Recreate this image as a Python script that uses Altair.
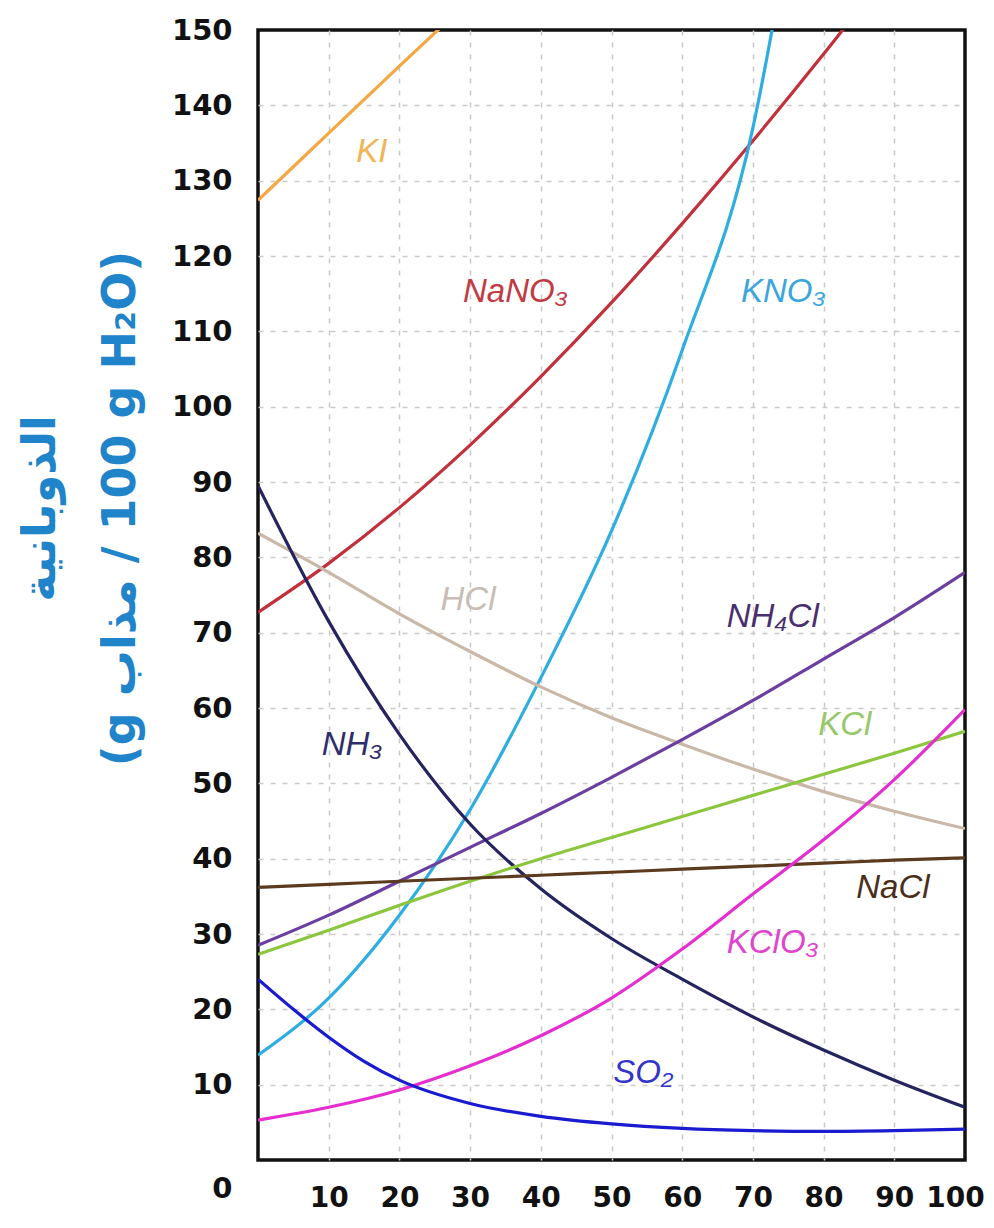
import altair as alt
import pandas as pd

# ---- data ----
temps = [0, 10, 20, 30, 40, 50, 60, 70, 80, 90, 100]

ki_t = [0, 10, 20, 30]
ki_s = [127.4, 136.3, 145.2, 154.0]

nano3_t = [0, 10, 20, 30, 40, 50, 60, 70, 80, 90]
nano3_s = [72.7, 79.2, 86.6, 94.9, 104.0, 113.8, 124.3, 135.3, 146.8, 158.8]

kno3_t = [0, 10, 20, 30, 40, 50, 60, 70, 75]
kno3_s = [13.9, 21.5, 32.5, 46.5, 64.0, 83.5, 107.5, 137.0, 162.0]

hcl_s = [83.2, 78.0, 72.5, 67.5, 62.8, 58.7, 55.2, 51.9, 48.9, 46.3, 44.0]
nh3_s = [89.5, 71.5, 56.5, 44.6, 36.0, 29.4, 24.0, 19.0, 14.6, 10.6, 7.0]
nh4cl_s = [28.5, 32.5, 37.0, 41.5, 46.0, 50.8, 55.8, 61.0, 66.5, 72.0, 78.0]
kcl_s = [27.3, 30.5, 33.8, 37.0, 40.0, 42.8, 45.6, 48.4, 51.2, 54.0, 56.9]
nacl_s = [36.2, 36.6, 37.0, 37.4, 37.8, 38.2, 38.6, 39.0, 39.4, 39.8, 40.1]
kclo3_s = [5.3, 7.0, 9.3, 12.5, 16.5, 21.5, 28.0, 35.3, 42.5, 50.5, 59.8]

so2_t = [0, 5, 10, 15, 20, 30, 40, 50, 60, 70, 80, 90, 100]
so2_s = [24.0, 20.0, 16.3, 13.1, 10.6, 7.5, 5.8, 4.8, 4.2, 3.9, 3.8, 3.9, 4.1]

substances = ["KI", "NaNO3", "KNO3", "HCl", "NH4Cl", "NH3", "KCl", "NaCl", "KClO3", "SO2"]
line_colors = ["#f3a843", "#c2303b", "#2eaee0", "#c9b8a8", "#6a3fa0",
               "#24245e", "#8cc63f", "#5b3a1e", "#e52ecf", "#1a1ad0"]

label_text = ["KI", "NaNO₃", "KNO₃", "HCl", "NH₄Cl", "NH₃", "KCl", "NaCl", "KClO₃", "SO₂"]
label_colors = ["#f2b455", "#c23a44", "#3aa6dc", "#c8bcb4", "#4a2e6e",
                "#2e2e6a", "#96c86a", "#4a2e1a", "#e044cc", "#3434c8"]
label_t = [16.1, 36.4, 74.3, 29.7, 72.8, 13.3, 83.0, 89.8, 72.8, 54.5]
label_s = [133.8, 115.2, 115.2, 74.3, 72.1, 55.1, 57.7, 36.1, 28.8, 11.5]

y_ticks = list(range(0, 151, 10))
x_ticks = list(range(10, 101, 10))

y_title = ["الذوبانية", "(g مذاب\u200e / 100 g H₂O)"]

# ---- build table ----
series = {
    "KI": (ki_t, ki_s),
    "NaNO3": (nano3_t, nano3_s),
    "KNO3": (kno3_t, kno3_s),
    "HCl": (temps, hcl_s),
    "NH4Cl": (temps, nh4cl_s),
    "NH3": (temps, nh3_s),
    "KCl": (temps, kcl_s),
    "NaCl": (temps, nacl_s),
    "KClO3": (temps, kclo3_s),
    "SO2": (so2_t, so2_s),
}
rows = []
for name, (ts, ss) in series.items():
    for i, (t, s) in enumerate(zip(ts, ss)):
        rows.append({"substance": name, "T": t, "S": s, "i": i})
df = pd.DataFrame(rows)

labels = pd.DataFrame({"substance": substances, "text": label_text,
                       "T": label_t, "S": label_s})

xscale = alt.Scale(domain=[0, 100], nice=False, zero=False)
yscale = alt.Scale(domain=[0, 150], nice=False)

grid_x = {"condition": {"test": "datum.value === 100 || datum.value === 0", "value": "transparent"},
          "value": "#c9c9c9"}
grid_y = {"condition": {"test": "datum.value === 150 || datum.value === 0", "value": "transparent"},
          "value": "#c9c9c9"}

x_axis = alt.Axis(values=x_ticks, title=None, domain=False, ticks=False,
                  labelFont="DejaVu Sans", labelFontWeight="bold", labelFontSize=28,
                  labelColor="#111111", labelPadding=24, labelFlush=False,
                  labelOverlap=False,
                  labelOffset={"condition": {"test": "datum.value === 100", "value": -10}, "value": 0},
                  grid=True, gridDash=[5, 7],
                  gridColor=grid_x, gridWidth=1.5)

y_axis = alt.Axis(values=y_ticks, domain=False, ticks=False,
                  labelFont="DejaVu Sans", labelFontWeight="bold", labelFontSize=29,
                  labelColor="#111111", labelPadding=26, labelFlush=False,
                  labelOverlap=False,
                  labelOffset={"condition": {"test": "datum.value === 0", "value": 28}, "value": 0},
                  grid=True, gridDash=[5, 7], gridColor=grid_y, gridWidth=1.5,
                  title=y_title,
                  titleFont="DejaVu Sans", titleFontWeight="bold", titleFontSize=46,
                  titleColor="#1f84c9", titleAngle=270, titleAlign="center",
                  titleBaseline="top", titleX=-240, titleY=478, titleLineHeight=80)

lines = alt.Chart(df).mark_line(strokeWidth=3.2, interpolate="monotone", clip=True).encode(
    x=alt.X("T:Q", scale=xscale, axis=x_axis),
    y=alt.Y("S:Q", scale=yscale, axis=y_axis),
    color=alt.Color("substance:N", scale=alt.Scale(domain=substances, range=line_colors), legend=None),
    detail="substance:N",
    order="i:Q",
)

text = alt.Chart(labels).mark_text(font="Liberation Sans", fontStyle="italic",
                                   fontSize=33, align="center", baseline="middle").encode(
    x=alt.X("T:Q", scale=xscale),
    y=alt.Y("S:Q", scale=yscale),
    text="text:N",
    color=alt.Color("substance:N", scale=alt.Scale(domain=substances, range=label_colors), legend=None),
)

chart = alt.layer(lines, text).resolve_scale(color="independent").properties(
    width=707, height=1130,
    padding={"left": 250, "top": 22, "right": 21, "bottom": 57},
    autosize=alt.AutoSizeParams(type="none"),
    background="white",
).configure_view(stroke="#111111", strokeWidth=3.5)

chart.save("out.html", embed_options={"renderer": "svg", "actions": False})
